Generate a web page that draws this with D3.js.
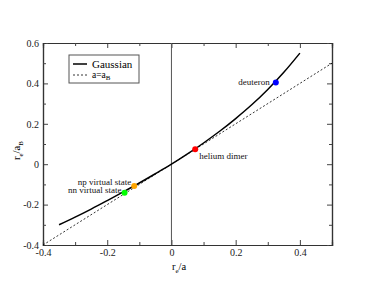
<!DOCTYPE html>
<html>
<head>
<meta charset="utf-8">
<script src="https://cdn.jsdelivr.net/npm/d3@7"></script>
<style>
  body { margin: 0; background: #fff; }
  svg text { font-family: "Liberation Serif", "DejaVu Serif", serif !important; }
</style>
</head>
<body>
<div id="chart"></div>
<script>
// data
var gaussX = [-0.35, -0.3, -0.25, -0.2, -0.15, -0.1, -0.05, 0, 0.05, 0.1, 0.15, 0.2, 0.25, 0.3, 0.35, 0.4]
var gaussY = [-0.30, -0.262, -0.222, -0.18, -0.137, -0.093, -0.047, 0, 0.051, 0.105, 0.163, 0.226, 0.294, 0.37, 0.455, 0.55]
var bornX = [-0.4, 0.5]
var bornY = [-0.4, 0.5]
var stateNames = ["deuteron", "helium dimer", "np virtual state", "nn virtual state"]
var stateX = [0.325, 0.074, -0.116, -0.146]
var stateY = [0.405, 0.074, -0.108, -0.141]
var stateColors = ["#0000ff", "#ff0000", "#ffa500", "#00ff00"]
var xTicks = [-0.4, -0.2, 0, 0.2, 0.4]
var yTicks = [-0.4, -0.2, 0, 0.2, 0.4, 0.6]
var xMinor = [-0.3, -0.1, 0.1, 0.3]
var yMinor = [-0.3, -0.1, 0.1, 0.3, 0.5]

var chartW = 374, chartH = 289
var padL = 43, padR = 332, padT = 43, padB = 245
var serif = '"Liberation Serif", serif'

var svg = d3.select('#chart').append('svg')
  .attr('width', chartW)
  .attr('height', chartH)
  .attr('font-family', serif)

var x = d3.scaleLinear().domain([-0.4, 0.5]).range([padL, padR])
var y = d3.scaleLinear().domain([-0.4, 0.6]).range([padB, padT])

var fmt = d => d === 0 ? "0" : d3.format(".1f")(d).replace("−", "-")

// axes, ticks pointing inward
svg.append('g')
  .attr('transform', 'translate(0,' + padB + ')')
  .call(d3.axisBottom(x).tickValues(xTicks).tickSize(-5).tickPadding(4).tickFormat(fmt))
svg.append('g')
  .attr('transform', 'translate(0,' + padB + ')')
  .call(d3.axisBottom(x).tickValues(xMinor).tickSize(-3).tickFormat(''))
svg.append('g')
  .attr('transform', 'translate(0,' + padT + ')')
  .call(d3.axisTop(x).tickValues(xTicks).tickSize(-5).tickFormat(''))
svg.append('g')
  .attr('transform', 'translate(0,' + padT + ')')
  .call(d3.axisTop(x).tickValues(xMinor).tickSize(-3).tickFormat(''))

svg.append('g')
  .attr('transform', 'translate(' + padL + ',0)')
  .call(d3.axisLeft(y).tickValues(yTicks).tickSize(-5).tickPadding(4).tickFormat(fmt))
svg.append('g')
  .attr('transform', 'translate(' + padL + ',0)')
  .call(d3.axisLeft(y).tickValues(yMinor).tickSize(-3).tickFormat(''))
svg.append('g')
  .attr('transform', 'translate(' + padR + ',0)')
  .call(d3.axisRight(y).tickValues(yTicks).tickSize(-5).tickFormat(''))
svg.append('g')
  .attr('transform', 'translate(' + padR + ',0)')
  .call(d3.axisRight(y).tickValues(yMinor).tickSize(-3).tickFormat(''))

svg.selectAll('g').attr('font-family', serif)
svg.selectAll('.domain').attr('stroke', '#333').attr('stroke-width', 1.2)
svg.selectAll('.tick line').attr('stroke', '#444')
svg.selectAll('.tick text').attr('font-size', 10).attr('fill', '#222')

// zero line
svg.append('line')
  .attr('x1', x(0)).attr('x2', x(0))
  .attr('y1', y(-0.4)).attr('y2', y(0.6))
  .attr('stroke', '#555').attr('stroke-width', 1)

// a = a_B dashed line
var line = d3.line().x(d => x(d[0])).y(d => y(d[1]))
svg.append('path')
  .datum(d3.zip(bornX, bornY))
  .attr('d', line)
  .attr('fill', 'none')
  .attr('stroke', '#000')
  .attr('stroke-width', 0.8)
  .attr('stroke-dasharray', '2,2')

// Gaussian curve
svg.append('path')
  .datum(d3.zip(gaussX, gaussY))
  .attr('d', line.curve(d3.curveCatmullRom))
  .attr('fill', 'none')
  .attr('stroke', '#000')
  .attr('stroke-width', 1.5)

// states
var states = stateNames.map((n, i) => ({ name: n, x: stateX[i], y: stateY[i], c: stateColors[i] }))
svg.selectAll('circle.state')
  .data(states)
  .enter()
  .append('circle')
  .attr('class', 'state')
  .attr('cx', d => x(d.x))
  .attr('cy', d => y(d.y))
  .attr('r', 3)
  .attr('fill', d => d.c)

// state labels
var labelPos = {
  "deuteron": [-6, 3, 'end'],
  "helium dimer": [4, 10, 'start'],
  "np virtual state": [-3, -1.5, 'end'],
  "nn virtual state": [-3, 0.5, 'end']
}
svg.selectAll('text.state')
  .data(states)
  .enter()
  .append('text')
  .attr('class', 'state')
  .attr('x', d => x(d.x) + labelPos[d.name][0])
  .attr('y', d => y(d.y) + labelPos[d.name][1])
  .attr('text-anchor', d => labelPos[d.name][2])
  .attr('font-size', 9)
  .attr('fill', '#111')
  .text(d => d.name)

// legend
var lg = svg.append('g').attr('transform', 'translate(69,55)')
lg.append('rect')
  .attr('width', 70).attr('height', 28)
  .attr('fill', '#fff').attr('stroke', '#555').attr('stroke-width', 1)
lg.append('line').attr('x1', 4).attr('x2', 18).attr('y1', 9).attr('y2', 9)
  .attr('stroke', '#000').attr('stroke-width', 1.5)
lg.append('line').attr('x1', 4).attr('x2', 18).attr('y1', 20).attr('y2', 20)
  .attr('stroke', '#000').attr('stroke-width', 0.8).attr('stroke-dasharray', '2,2')
lg.append('text').attr('x', 23).attr('y', 12.5).attr('font-size', 11).text('Gaussian')
var lt = lg.append('text').attr('x', 23).attr('y', 23).attr('font-size', 9.5)
lt.append('tspan').text('a=a')
lt.append('tspan').attr('font-size', 7).attr('dy', 2).text('B')

// axis titles
var xt = svg.append('text')
  .attr('x', 172).attr('y', 270)
  .attr('font-size', 10.5)
xt.append('tspan').text('r')
xt.append('tspan').attr('font-size', 7).attr('dy', 3).text('e')
xt.append('tspan').attr('dy', -3).text('/a')

var yt = svg.append('text')
  .attr('transform', 'translate(20,160)rotate(-90)')
  .attr('font-size', 10.5)
yt.append('tspan').text('r')
yt.append('tspan').attr('font-size', 7).attr('dy', 3).text('e')
yt.append('tspan').attr('dy', -3).text('/a')
yt.append('tspan').attr('font-size', 7).attr('dy', 3).text('B')
</script>
</body>
</html>
